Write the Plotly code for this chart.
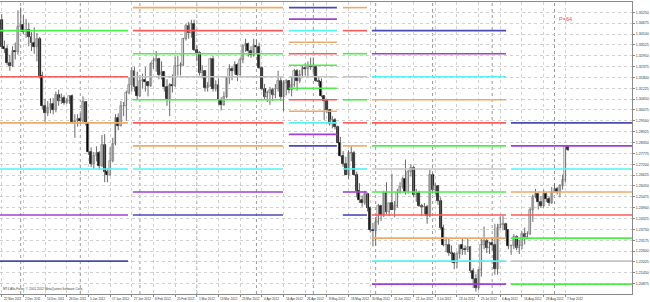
import plotly.graph_objects as go

# ---------------- data ----------------
opens = [1.3485,1.3340,1.3330,1.3255,1.3240,1.3320,1.3315,1.3445,1.3460,1.3420,
1.3430,1.3395,1.3360,1.3340,1.3385,1.3185,1.3030,1.2990,1.3020,1.3040,
1.3005,1.3085,1.3055,1.3070,1.3045,1.3055,1.3080,1.2945,1.2950,1.2960,
1.2950,1.3050,1.2940,1.2785,1.2720,1.2765,1.2780,1.2710,1.2820,1.2680,
1.2665,1.2740,1.2830,1.2965,1.2925,1.3030,1.3030,1.3100,1.3140,1.3215,
1.3130,1.3080,1.3160,1.3165,1.3155,1.3135,1.3250,1.3265,1.3275,1.3195,
1.3210,1.3130,1.3065,1.3140,1.3135,1.3240,1.3240,1.3245,1.3385,1.3450,
1.3415,1.3465,1.3325,1.3310,1.3205,1.3215,1.3125,1.3135,1.3275,1.3120,
1.3140,1.3060,1.3035,1.3075,1.3180,1.3225,1.3215,1.3245,1.3195,1.3270,
1.3345,1.3355,1.3320,1.3300,1.3345,1.3340,1.3230,1.3120,1.3075,1.3100,
1.3115,1.3085,1.3120,1.3160,1.3075,1.3150,1.3160,1.3115,1.3140,1.3215,
1.3160,1.3195,1.3230,1.3225,1.3240,1.3235,1.3235,1.3160,1.3155,1.3080,
1.3055,1.3005,1.2935,1.2955,1.2915,1.2835,1.2765,1.2720,1.2665,1.2780,
1.2780,1.2665,1.2580,1.2530,1.2515,1.2560,1.2490,1.2370,1.2365,1.2415,
1.2500,1.2450,1.2570,1.2465,1.2515,1.2480,1.2500,1.2570,1.2600,1.2640,
1.2575,1.2680,1.2700,1.2555,1.2570,1.2500,1.2495,1.2495,1.2445,1.2665,
1.2585,1.2605,1.2525,1.2385,1.2290,1.2290,1.2250,1.2245,1.2195,1.2245,
1.2290,1.2270,1.2265,1.2280,1.2155,1.2115,1.2065,1.2160,1.2290,1.2315,
1.2275,1.2305,1.2295,1.2165,1.2385,1.2400,1.2405,1.2370,1.2285,1.2285,
1.2335,1.2275,1.2285,1.2350,1.2335,1.2350,1.2480,1.2545,1.2565,1.2520,
1.2500,1.2565,1.2535,1.2515,1.2575,1.2590,1.2575,1.2605,1.2635,1.2810]
highs = [1.3515,1.3375,1.3350,1.3300,1.3345,1.3365,1.3535,1.3550,1.3510,1.3490,
1.3470,1.3420,1.3445,1.3415,1.3395,1.3210,1.3065,1.3055,1.3070,1.3070,
1.3105,1.3115,1.3095,1.3085,1.3070,1.3085,1.3090,1.2985,1.2985,1.2990,
1.3080,1.3055,1.2945,1.2810,1.2785,1.2815,1.2790,1.2875,1.2880,1.2700,
1.2810,1.2860,1.2985,1.2990,1.3055,1.3050,1.3110,1.3180,1.3235,1.3235,
1.3210,1.3190,1.3200,1.3235,1.3160,1.3260,1.3285,1.3320,1.3285,1.3265,
1.3215,1.3170,1.3150,1.3195,1.3290,1.3295,1.3260,1.3390,1.3465,1.3475,
1.3485,1.3486,1.3350,1.3320,1.3245,1.3220,1.3155,1.3285,1.3295,1.3165,
1.3175,1.3075,1.3105,1.3185,1.3250,1.3240,1.3265,1.3255,1.3285,1.3355,
1.3385,1.3365,1.3345,1.3385,1.3380,1.3365,1.3240,1.3145,1.3110,1.3130,
1.3125,1.3145,1.3215,1.3185,1.3165,1.3170,1.3160,1.3185,1.3225,1.3225,
1.3220,1.3245,1.3255,1.3265,1.3285,1.3280,1.3240,1.3180,1.3175,1.3085,
1.3065,1.3005,1.2975,1.2965,1.2925,1.2865,1.2790,1.2760,1.2795,1.2815,
1.2790,1.2680,1.2620,1.2555,1.2580,1.2570,1.2495,1.2410,1.2440,1.2510,
1.2505,1.2580,1.2625,1.2515,1.2670,1.2525,1.2590,1.2625,1.2655,1.2745,
1.2690,1.2720,1.2710,1.2590,1.2580,1.2510,1.2515,1.2505,1.2690,1.2675,
1.2620,1.2610,1.2545,1.2400,1.2335,1.2330,1.2290,1.2255,1.2255,1.2290,
1.2330,1.2290,1.2325,1.2285,1.2170,1.2140,1.2165,1.2330,1.2390,1.2325,
1.2310,1.2335,1.2405,1.2405,1.2445,1.2445,1.2410,1.2375,1.2295,1.2350,
1.2345,1.2320,1.2365,1.2385,1.2365,1.2490,1.2560,1.2590,1.2570,1.2550,
1.2585,1.2575,1.2550,1.2600,1.2620,1.2600,1.2615,1.2665,1.2815,1.2820]
lows = [1.3330,1.3310,1.3245,1.3215,1.3235,1.3275,1.3300,1.3420,1.3410,1.3390,
1.3345,1.3320,1.3305,1.3265,1.3175,1.3010,1.2945,1.2975,1.2990,1.2985,
1.2995,1.3030,1.3040,1.3035,1.3040,1.3040,1.2935,1.2860,1.2920,1.2935,
1.2935,1.2925,1.2770,1.2705,1.2695,1.2735,1.2690,1.2705,1.2625,1.2625,
1.2660,1.2730,1.2820,1.2900,1.2920,1.2975,1.2950,1.3090,1.3105,1.3105,
1.3060,1.3075,1.3120,1.3105,1.3080,1.3130,1.3225,1.3210,1.3170,1.3170,
1.3105,1.3030,1.2975,1.3100,1.3130,1.3190,1.3190,1.3240,1.3375,1.3385,
1.3390,1.3320,1.3265,1.3190,1.3175,1.3105,1.3105,1.3130,1.3105,1.3105,
1.3035,1.3005,1.3030,1.3070,1.3145,1.3165,1.3195,1.3160,1.3190,1.3255,
1.3315,1.3290,1.3285,1.3290,1.3310,1.3225,1.3110,1.3065,1.3050,1.3035,
1.3055,1.3070,1.3105,1.3055,1.3000,1.3085,1.3095,1.3080,1.3130,1.3110,
1.3150,1.3180,1.3190,1.3180,1.3220,1.3195,1.3155,1.3135,1.3075,1.2955,
1.2990,1.2925,1.2910,1.2905,1.2835,1.2760,1.2705,1.2665,1.2640,1.2735,
1.2660,1.2545,1.2515,1.2495,1.2505,1.2470,1.2360,1.2285,1.2290,1.2400,
1.2420,1.2440,1.2455,1.2445,1.2480,1.2440,1.2490,1.2565,1.2590,1.2560,
1.2565,1.2655,1.2545,1.2520,1.2495,1.2445,1.2455,1.2405,1.2440,1.2565,
1.2560,1.2505,1.2375,1.2285,1.2255,1.2235,1.2200,1.2165,1.2170,1.2220,
1.2240,1.2240,1.2255,1.2145,1.2065,1.2045,1.2055,1.2125,1.2270,1.2250,
1.2245,1.2265,1.2135,1.2135,1.2380,1.2370,1.2335,1.2270,1.2240,1.2270,
1.2265,1.2245,1.2270,1.2295,1.2325,1.2345,1.2415,1.2540,1.2480,1.2490,
1.2490,1.2520,1.2500,1.2510,1.2570,1.2560,1.2545,1.2585,1.2625,1.2790]
closes = [1.3340,1.3330,1.3255,1.3240,1.3320,1.3315,1.3445,1.3460,1.3420,1.3430,
1.3395,1.3360,1.3340,1.3385,1.3185,1.3030,1.2990,1.3020,1.3040,1.3005,
1.3085,1.3055,1.3070,1.3045,1.3055,1.3080,1.2945,1.2950,1.2960,1.2950,
1.3050,1.2940,1.2785,1.2720,1.2765,1.2780,1.2710,1.2820,1.2680,1.2665,
1.2740,1.2830,1.2965,1.2925,1.3030,1.3030,1.3100,1.3140,1.3215,1.3130,
1.3080,1.3160,1.3165,1.3155,1.3135,1.3250,1.3265,1.3275,1.3195,1.3210,
1.3130,1.3065,1.3140,1.3135,1.3240,1.3240,1.3245,1.3385,1.3450,1.3415,
1.3465,1.3325,1.3310,1.3205,1.3215,1.3125,1.3135,1.3275,1.3120,1.3140,
1.3060,1.3035,1.3075,1.3180,1.3225,1.3215,1.3245,1.3195,1.3270,1.3345,
1.3355,1.3320,1.3300,1.3345,1.3340,1.3230,1.3120,1.3075,1.3100,1.3115,
1.3085,1.3120,1.3160,1.3075,1.3150,1.3160,1.3115,1.3140,1.3215,1.3160,
1.3195,1.3230,1.3225,1.3240,1.3235,1.3235,1.3160,1.3155,1.3080,1.3055,
1.3005,1.2935,1.2955,1.2915,1.2835,1.2765,1.2720,1.2665,1.2780,1.2780,
1.2665,1.2580,1.2530,1.2515,1.2560,1.2490,1.2370,1.2365,1.2415,1.2500,
1.2450,1.2570,1.2465,1.2515,1.2480,1.2500,1.2570,1.2600,1.2640,1.2575,
1.2680,1.2700,1.2555,1.2570,1.2500,1.2495,1.2495,1.2445,1.2665,1.2585,
1.2605,1.2525,1.2385,1.2290,1.2290,1.2250,1.2245,1.2195,1.2245,1.2290,
1.2270,1.2265,1.2280,1.2155,1.2115,1.2065,1.2160,1.2290,1.2315,1.2275,
1.2305,1.2295,1.2165,1.2385,1.2400,1.2405,1.2370,1.2285,1.2285,1.2335,
1.2275,1.2285,1.2350,1.2335,1.2350,1.2480,1.2545,1.2565,1.2520,1.2500,
1.2565,1.2535,1.2515,1.2575,1.2590,1.2575,1.2605,1.2635,1.2815,1.2795]

date_labels = ["22 Nov 2011","2 Dec 2011","14 Dec 2011","26 Dec 2011","5 Jan 2012",
"17 Jan 2012","27 Jan 2012","8 Feb 2012","20 Feb 2012","1 Mar 2012","13 Mar 2012",
"23 Mar 2012","4 Apr 2012","16 Apr 2012","26 Apr 2012","8 May 2012","18 May 2012",
"30 May 2012","11 Jun 2012","21 Jun 2012","3 Jul 2012","13 Jul 2012","25 Jul 2012",
"6 Aug 2012","16 Aug 2012","28 Aug 2012","7 Sep 2012"]
date_label_bars = [0,8,16,24,32,40,48,56,64,72,80,88,96,104,112,120,128,136,144,152,160,168,176,184,192,200,208]
month_start_bars = [7,29,51,72,94,115,138,159,181,204]

price_ticks = [1.35250,1.34675,1.34100,1.33525,1.32950,1.32375,1.31800,1.31225,1.30650,
1.30075,1.29500,1.28925,1.28350,1.27775,1.27200,1.26625,1.26050,1.25475,1.24900,
1.24325,1.23750,1.23175,1.22600,1.22025,1.21450,1.20875]

# Murrey-math style level segments: bar span, level prices, level rank (distance from middle line)
seg_start = [-1.0, 48.4, 106.0, 125.9, 136.6, 187.9]
seg_end = [46.6, 103.8, 123.7, 134.8, 186.1, 240.0]
seg_levels = [
    [1.34277,1.31836,1.29395,1.26953,1.24512,1.22070],
    [1.35498,1.34277,1.33057,1.31836,1.30615,1.29395,1.28174,1.26953,1.25732,1.24512],
    [1.35498,1.34888,1.34277,1.33667,1.33057,1.32446,1.31836,1.31226,1.30615,1.30005,1.29395,1.28784,1.28174],
    [1.35498,1.34277,1.33057,1.31836,1.30615,1.29395,1.28174,1.26953,1.25732,1.24512],
    [1.34277,1.33057,1.31836,1.30615,1.29395,1.28174,1.26953,1.25732,1.24512,1.23291,1.22070,1.20850],
    [1.29395,1.28174,1.26953,1.25732,1.24512,1.23291,1.22070,1.20850],
]
seg_ranks = [
    [1,2,3,4,5,6],
    [3,2,1,0,1,2,3,4,5,6],
    [6,5,4,3,2,1,0,1,2,3,4,5,6],
    [3,2,1,0,1,2,3,4,5,6],
    [6,5,4,3,2,1,0,1,2,3,4,5],
    [6,5,4,3,2,1,0,1],
]
period_text = "P=64"
copyright_text = "MT4 Alfa-Forex, \u00a9 2001-2012 MetaQuotes Software Corp."

# ---------------- styles ----------------
rank_colors = ["#c4c4c4", "#4cee4c", "#ff5a5a", "#eeaa6a", "#55f2f2", "#a040d2", "#4a4ab4"]
FONT = "Liberation Sans"
W, H = 650, 302
ML, MR, MT, MB = 0, 18, 2, 8
XR = [-0.63, 232.6]
YR = [1.20329, 1.35795]

fig = go.Figure()

n = len(closes)
bars = list(range(n))

# wicks
wx, wy = [], []
for i in bars:
    wx += [i, i, None]
    wy += [lows[i], highs[i], None]
fig.add_trace(go.Scatter(x=wx, y=wy, mode="lines", line=dict(color="#6a6a6a", width=1),
                         hoverinfo="skip", showlegend=False))

# bodies
body_base = [min(o, c) for o, c in zip(opens, closes)]
body_h = [max(abs(c - o), 0.00012) for o, c in zip(opens, closes)]
fill = ["#ffffff" if c >= o else "#000000" for o, c in zip(opens, closes)]
edge = ["#8a8a8a" if c >= o else "#000000" for o, c in zip(opens, closes)]
fig.add_trace(go.Bar(x=bars, y=body_h, base=body_base, width=0.72,
                     marker=dict(color=fill, line=dict(color=edge, width=0.7)),
                     hoverinfo="skip", showlegend=False))

# level segments
for s in range(len(seg_levels)):
    for lv, rk in zip(seg_levels[s], seg_ranks[s]):
        fig.add_trace(go.Scatter(x=[seg_start[s], seg_end[s]], y=[lv, lv], mode="lines",
                                 line=dict(color=rank_colors[rk], width=1.6),
                                 hoverinfo="skip", showlegend=False))

# month separators
for b in month_start_bars:
    fig.add_shape(type="line", x0=b, x1=b, y0=0, y1=1, xref="x", yref="paper",
                  line=dict(color="#9a9a9a", width=1, dash="dot"), layer="below")

# date labels (left aligned at bar, MT4 style)
for b, t in zip(date_label_bars, date_labels):
    fig.add_annotation(x=b, y=0, xref="x", yref="paper", text=t, showarrow=False,
                       xanchor="left", yanchor="top", yshift=-1, xshift=0,
                       font=dict(size=3.1, color="#333333", family=FONT))

fig.add_annotation(x=0.002, y=0.003, xref="paper", yref="paper", text=copyright_text,
                   showarrow=False, xanchor="left", yanchor="bottom",
                   font=dict(size=3.1, color="#444444", family=FONT))
fig.add_annotation(x=557 / 632, y=(294 - 19) / 292, xref="paper", yref="paper", text=period_text,
                   showarrow=False, xanchor="left", yanchor="middle",
                   font=dict(size=5.5, color="#ff4a4a", family=FONT))

fig.update_layout(
    width=W, height=H,
    margin=dict(l=ML, r=MR, t=MT, b=MB, pad=0),
    paper_bgcolor="white", plot_bgcolor="white",
    barmode="overlay", bargap=0,
    showlegend=False,
    font=dict(family=FONT, size=3.5, color="#333333"),
    xaxis=dict(range=XR, tickmode="array", tickvals=date_label_bars, showticklabels=False,
               ticks="outside", ticklen=2, tickcolor="#888888",
               showgrid=True, gridcolor="#d0d0d0", griddash="dot", gridwidth=1,
               zeroline=False, showline=True, linecolor="#8a8a8a", linewidth=1, mirror=True,
               fixedrange=True),
    yaxis=dict(range=YR, side="right", tickmode="array", tickvals=price_ticks,
               ticktext=[f"{v:.5f}" for v in price_ticks],
               tickfont=dict(size=3.6, color="#333333", family=FONT),
               ticks="outside", ticklen=2, tickcolor="#888888",
               showgrid=True, gridcolor="#d0d0d0", griddash="dot", gridwidth=1,
               zeroline=False, showline=True, linecolor="#8a8a8a", linewidth=1, mirror=True,
               fixedrange=True),
)

fig.write_html("out.html")
